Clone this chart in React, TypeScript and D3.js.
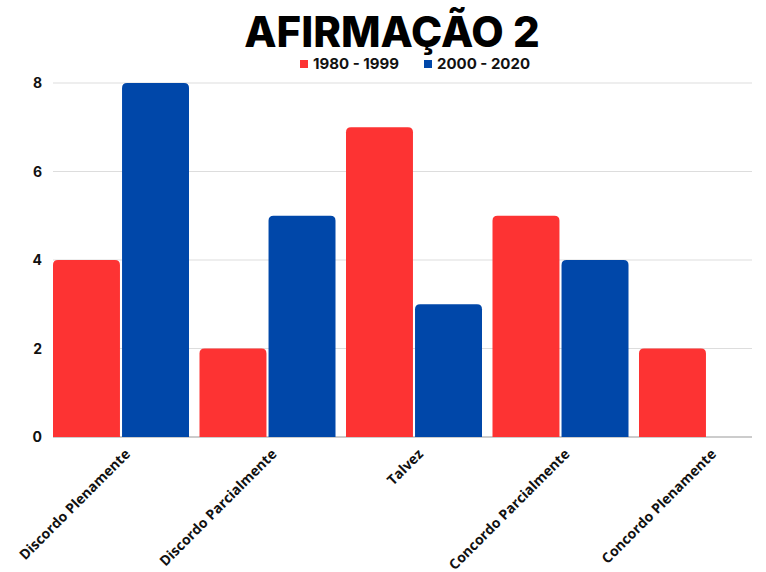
import React from "react";
import * as d3 from "d3";

const categories = ["Discordo Plenamente", "Discordo Parcialmente", "Talvez", "Concordo Parcialmente", "Concordo Plenamente"];
const seriesNames = ["1980 - 1999", "2000 - 2020"];
const values1980 = [4, 2, 7, 5, 2];
const values2000 = [8, 5, 3, 4, 0];
const yTicks = [0, 2, 4, 6, 8];
const colors = ["#fd3333", "#0047a9"];

const W = 766, H = 572;
const left = 53, plotRight = 752;
const y0 = 437, yTop = 83;
const step = 146.5, group = 136;

function topRoundedRect(x: number, y: number, w: number, h: number, r: number) {
  if (h <= 0) return "";
  const rr = Math.min(r, h, w / 2);
  return `M${x},${y + h}V${y + rr}Q${x},${y} ${x + rr},${y}H${x + w - rr}Q${x + w},${y} ${x + w},${y + rr}V${y + h}Z`;
}

export default function App() {
  const x = d3.scaleBand<string>().domain(categories).range([left, left + 4 * step + group]).paddingInner((step - group) / step).paddingOuter(0);
  const xs = d3.scaleBand<string>().domain(seriesNames).range([0, x.bandwidth()]).paddingInner(0.03);
  const y = d3.scaleLinear().domain([0, 8]).range([y0, yTop]);
  const series = [values1980, values2000];
  const font = "Inter, 'Open Sans', sans-serif";
  const font2 = "'Open Sans', Inter, sans-serif";
  return (
    <svg width={W} height={H} style={{ position: "absolute", left: 0, top: 0, background: "#fff" }}>
      <rect width={W} height={H} fill="#fff" />
      <text x={392} y={47} textAnchor="middle" fontFamily={font} fontWeight={800} fontSize={42} fill="#000">AFIRMAÇÃO 2</text>
      {seriesNames.map((s, i) => {
        const lx = i === 0 ? 300 : 424;
        return (
          <g key={s}>
            <rect x={lx} y={60} width={8} height={8} fill={colors[i]} />
            <text x={lx + 13} y={69} fontFamily={font} fontWeight={700} fontSize={15} fill="#111">{s}</text>
          </g>
        );
      })}
      {yTicks.map(t => (
        <g key={t}>
          <line x1={left} x2={plotRight} y1={y(t)} y2={y(t)} stroke={t === 0 ? "#bbb" : "#ddd"} strokeWidth={t === 0 ? 1.5 : 1} />
          <text x={42} y={y(t) + 5} textAnchor="end" fontFamily={font} fontWeight={700} fontSize={14} fill="#111">{t}</text>
        </g>
      ))}
      {categories.map((c, ci) => (
        <g key={c}>
          {series.map((vals, si) => (
            <path key={si} d={topRoundedRect(x(c)! + xs(seriesNames[si])!, y(vals[ci]), xs.bandwidth(), y0 - y(vals[ci]), 5)} fill={colors[si]} />
          ))}
          <text transform={`translate(${x(c)! + x.bandwidth() / 2 + 10},${455}) rotate(-45)`} textAnchor="end" fontFamily={font2} fontWeight={700} fontSize={14} fill="#111">{c}</text>
        </g>
      ))}
    </svg>
  );
}
